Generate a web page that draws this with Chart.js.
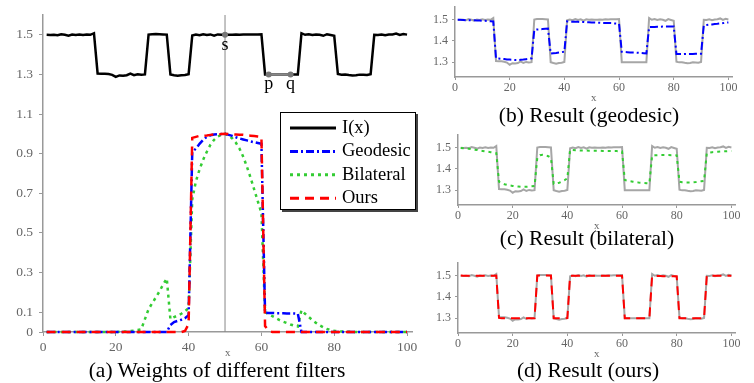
<!doctype html>
<html lang="en">
  <head>
    <meta charset="UTF-8" />
    <title>Weights of different filters</title>
    <script src="https://cdn.jsdelivr.net/npm/chart.js"></script>
    <style>
      body {
        margin: 0;
        background: #fff;
        width: 754px;
        height: 383px;
        overflow: hidden;
        position: relative;
        font-family: "Liberation Serif", "Times New Roman", serif;
      }
      canvas {
        position: absolute;
      }
      .cap {
        position: absolute;
        transform: translate(-50%, -50%);
        white-space: nowrap;
        font-size: 21.5px;
        color: #000;
      }
    </style>
  </head>
  <body>
    <canvas id="weights" width="425" height="383" style="left: 0; top: 0"></canvas>
    <canvas id="geo" width="354" height="127" style="left: 400px; top: -20px"></canvas>
    <canvas id="bil" width="354" height="127" style="left: 400px; top: 108px"></canvas>
    <canvas id="ours" width="354" height="127" style="left: 400px; top: 236px"></canvas>

    <div class="cap" style="left: 217px; top: 370px">(a) Weights of different filters</div>
    <div class="cap" style="left: 589px; top: 115px">(b) Result (geodesic)</div>
    <div class="cap" style="left: 587px; top: 238px">(c) Result (bilateral)</div>
    <div class="cap" style="left: 588px; top: 370px">(d) Result (ours)</div>

    <script>
      // sample positions 1..100
      const xs = Array.from({ length: 100 }, (_, i) => i + 1);

      const xTicks = [0, 20, 40, 60, 80, 100];
      const weightTicks = [0, 0.1, 0.3, 0.5, 0.7, 0.9, 1.1, 1.3, 1.5];
      const resultTicks = [1.3, 1.4, 1.5];

      // input signal I(x)
      const signal = [
        1.5, 1.499, 1.5, 1.498, 1.503, 1.5, 1.496, 1.501, 1.499, 1.502, 1.499, 1.501, 1.5, 1.508,
        1.305, 1.304, 1.304, 1.302, 1.298, 1.288, 1.295, 1.294, 1.296, 1.304, 1.296, 1.301, 1.298, 1.3,
        1.501, 1.503, 1.504, 1.503, 1.502, 1.501,
        1.3, 1.296, 1.293, 1.296, 1.297, 1.301,
        1.497, 1.501, 1.498, 1.503, 1.499, 1.502, 1.496, 1.502, 1.5, 1.501,
        1.5, 1.5, 1.501, 1.5, 1.502, 1.501, 1.502, 1.502, 1.502, 1.503,
        1.3, 1.3, 1.3, 1.3, 1.3, 1.3, 1.3, 1.3, 1.3, 1.3,
        1.508, 1.5, 1.503, 1.499, 1.502, 1.5, 1.495, 1.503, 1.499, 1.495,
        1.302, 1.299, 1.3, 1.297, 1.295, 1.296, 1.299, 1.298, 1.297, 1.301,
        1.5, 1.499, 1.502, 1.498, 1.501, 1.502, 1.506, 1.499, 1.504, 1.501,
      ];

      // filter weights around s (x = 50)
      const wGeodesic = [
        0, 0, 0, 0, 0, 0, 0, 0, 0, 0, 0, 0, 0, 0, 0, 0, 0, 0, 0, 0,
        0, 0, 0, 0, 0, 0, 0, 0, 0, 0, 0, 0, 0, 0,
        0.035, 0.05, 0.056, 0.062, 0.07, 0.085,
        0.91, 0.925, 0.95, 0.97, 0.985, 0.993, 0.997, 0.998, 0.999, 1.0,
        0.995, 0.99, 0.983, 0.977, 0.972, 0.967, 0.962, 0.958, 0.954, 0.95,
        0.097, 0.096, 0.096, 0.095, 0.095, 0.095, 0.094, 0.094, 0.094, 0.093,
        0, 0, 0, 0, 0, 0, 0, 0, 0, 0, 0, 0, 0, 0, 0,
        0, 0, 0, 0, 0, 0, 0, 0, 0, 0, 0, 0, 0, 0, 0,
      ];
      const wBilateral = [
        0, 0, 0, 0, 0, 0, 0, 0, 0, 0, 0, 0, 0, 0, 0, 0, 0, 0, 0, 0,
        0.001, 0.002, 0.003, 0.005, 0.007, 0.01, 0.014,
        0.065, 0.115, 0.145, 0.175, 0.205, 0.24, 0.27,
        0.065, 0.075, 0.083, 0.092, 0.105, 0.12,
        0.67, 0.76, 0.82, 0.87, 0.91, 0.945, 0.97, 0.986, 0.996, 1.0,
        0.992, 0.977, 0.955, 0.925, 0.885, 0.835, 0.78, 0.72, 0.66, 0.6,
        0.1, 0.09, 0.08, 0.07, 0.06, 0.052, 0.045, 0.038, 0.032, 0.028,
        0.11, 0.092, 0.076, 0.06, 0.046, 0.034, 0.024, 0.016, 0.01, 0.006,
        0.004, 0.003, 0.002, 0.001, 0.001, 0, 0, 0, 0, 0,
        0, 0, 0, 0, 0, 0, 0, 0, 0, 0,
      ];
      const wOurs = [
        0, 0, 0, 0, 0, 0, 0, 0, 0, 0, 0, 0, 0, 0, 0, 0, 0, 0, 0, 0,
        0, 0, 0, 0, 0, 0, 0, 0, 0, 0, 0, 0, 0, 0, 0, 0, 0, 0,
        0.005, 0.04,
        0.98, 0.985, 0.99, 0.99, 0.992, 0.995, 0.997, 0.998, 0.999, 1.0,
        0.999, 0.998, 0.997, 0.996, 0.995, 0.993, 0.991, 0.989, 0.987, 0.985,
        0.03, 0.005,
        0, 0, 0, 0, 0, 0, 0, 0, 0, 0, 0, 0, 0, 0, 0, 0, 0, 0, 0,
        0, 0, 0, 0, 0, 0, 0, 0, 0, 0, 0, 0, 0, 0, 0, 0, 0, 0, 0,
      ];

      // filtered results
      const resGeodesic = [
        1.5, 1.5, 1.499, 1.498, 1.498, 1.497, 1.497, 1.496, 1.496, 1.495, 1.495, 1.494, 1.493, 1.492,
        1.318, 1.317, 1.316, 1.315, 1.313, 1.312, 1.311, 1.31, 1.31, 1.311, 1.312, 1.314, 1.316, 1.318,
        1.452, 1.454, 1.455, 1.456, 1.457, 1.458,
        1.341, 1.342, 1.343, 1.345, 1.347, 1.349,
        1.492, 1.491, 1.491, 1.49, 1.49, 1.489, 1.489, 1.488, 1.488, 1.487,
        1.487, 1.486, 1.486, 1.485, 1.485, 1.484, 1.484, 1.483, 1.482, 1.481,
        1.349, 1.348, 1.347, 1.346, 1.345, 1.345, 1.344, 1.343, 1.342, 1.341,
        1.465, 1.466, 1.466, 1.467, 1.467, 1.468, 1.468, 1.468, 1.468, 1.468,
        1.338, 1.338, 1.338, 1.339, 1.339, 1.339, 1.339, 1.34, 1.34, 1.34,
        1.473, 1.475, 1.477, 1.478, 1.48, 1.481, 1.483, 1.484, 1.486, 1.487,
      ];
      const resBilateral = [
        1.499, 1.498, 1.497, 1.495, 1.493, 1.491, 1.489, 1.487, 1.485, 1.483, 1.481, 1.479, 1.477, 1.475,
        1.34, 1.333, 1.328, 1.325, 1.322, 1.32, 1.318, 1.317, 1.316, 1.316, 1.316, 1.317, 1.318, 1.32,
        1.452, 1.465, 1.467, 1.465, 1.46, 1.452,
        1.33, 1.332, 1.335, 1.34, 1.347, 1.356,
        1.49, 1.489, 1.488, 1.488, 1.487, 1.487, 1.487, 1.486, 1.486, 1.486,
        1.486, 1.486, 1.485, 1.485, 1.485, 1.485, 1.484, 1.484, 1.483, 1.483,
        1.348, 1.345, 1.342, 1.34, 1.338, 1.336, 1.335, 1.334, 1.333, 1.332,
        1.462, 1.464, 1.465, 1.466, 1.466, 1.466, 1.466, 1.465, 1.465, 1.464,
        1.34, 1.337, 1.336, 1.336, 1.336, 1.337, 1.338, 1.34, 1.342, 1.344,
        1.475, 1.477, 1.479, 1.48, 1.481, 1.482, 1.483, 1.483, 1.484, 1.484,
      ];
      const resOurs = [
        1.501, 1.5, 1.5, 1.5, 1.5, 1.5, 1.5, 1.5, 1.5, 1.5, 1.5, 1.5, 1.5, 1.501,
        1.301, 1.3, 1.3, 1.3, 1.3, 1.299, 1.299, 1.299, 1.299, 1.3, 1.3, 1.3, 1.3, 1.3,
        1.501, 1.501, 1.501, 1.501, 1.501, 1.501,
        1.299, 1.299, 1.299, 1.299, 1.299, 1.3,
        1.5, 1.5, 1.5, 1.5, 1.5, 1.5, 1.5, 1.5, 1.5, 1.5,
        1.5, 1.5, 1.5, 1.5, 1.5, 1.5, 1.5, 1.5, 1.5, 1.5,
        1.3, 1.3, 1.3, 1.3, 1.3, 1.3, 1.3, 1.3, 1.3, 1.3,
        1.499, 1.499, 1.499, 1.499, 1.498, 1.498, 1.498, 1.497, 1.497, 1.497,
        1.299, 1.299, 1.3, 1.3, 1.3, 1.3, 1.3, 1.3, 1.3, 1.3,
        1.5, 1.5, 1.5, 1.5, 1.5, 1.5, 1.5, 1.5, 1.5, 1.5,
      ];

      // marked points s, p, q on I(x)
      const markX = [50, 62, 68];
      const markY = [1.5, 1.3, 1.3];
      const markLabels = ["s", "p", "q"];

      const BLUE = "#0000ff";
      const GREEN = "#33cc33";
      const RED = "#ff0000";
      const AXIS = "#999";
      const TICK_TEXT = "#666";
      const SERIF = '"Liberation Serif", "Times New Roman", serif';

      Chart.defaults.font.family = SERIF;
      Chart.defaults.animation = false;

      const pts = (vals) => vals.map((v, i) => ({ x: xs[i], y: v }));

      const styles = {
        signal: { color: "#000", dash: [], width: 2.5 },
        geodesic: { color: BLUE, dash: [8, 3, 2, 3], width: 2.5 },
        bilateral: { color: GREEN, dash: [3, 4], width: 2.5 },
        ours: { color: RED, dash: [9, 6], width: 2.5 },
      };

      function lineSet(label, vals, st, order, extra) {
        return Object.assign(
          {
            label: label,
            data: pts(vals),
            borderColor: st.color,
            borderDash: st.dash,
            borderWidth: st.width,
            pointRadius: 0,
            tension: 0,
            order: order,
            clip: 6,
          },
          extra || {}
        );
      }

      function axes(o) {
        return {
          x: {
            type: "linear",
            min: 0,
            max: 101.5,
            afterBuildTicks: (s) => {
              s.ticks = xTicks.map((v) => ({ value: v }));
            },
            afterFit: (s) => {
              s.height = o.xh;
            },
            ticks: {
              autoSkip: false,
              maxRotation: 0,
              padding: o.tp,
              color: TICK_TEXT,
              font: { size: o.fs },
              callback: (v) => String(v),
            },
            grid: { drawOnChartArea: false, tickLength: o.tl, color: AXIS },
            border: { color: AXIS, width: 1.5 },
            title: {
              display: true,
              text: "x",
              color: TICK_TEXT,
              font: { size: 11 },
              padding: { top: 0, bottom: o.xpb },
            },
          },
          y: {
            min: o.ymin,
            max: o.ymax,
            afterBuildTicks: (s) => {
              s.ticks = o.yticks.map((v) => ({ value: v }));
            },
            afterFit: (s) => {
              s.width = o.yw;
            },
            ticks: {
              padding: o.yp,
              color: TICK_TEXT,
              font: { size: o.fs },
              callback: (v) => String(v),
            },
            grid: { drawOnChartArea: false, tickLength: o.tl, color: AXIS },
            border: { color: AXIS, width: 1.5 },
          },
        };
      }

      // legend box inside panel (a)
      const legendBox = {
        id: "legendBox",
        afterDraw(chart) {
          const ctx = chart.ctx;
          const items = [
            ["I(x)", styles.signal],
            ["Geodesic", styles.geodesic],
            ["Bilateral", styles.bilateral],
            ["Ours", styles.ours],
          ];
          ctx.save();
          ctx.fillStyle = "#444";
          ctx.fillRect(282, 114, 136, 98);
          ctx.fillStyle = "#fff";
          ctx.fillRect(280, 112, 136, 98);
          ctx.strokeStyle = "#000";
          ctx.lineWidth = 1;
          ctx.strokeRect(280.5, 112.5, 135, 97);
          ctx.font = "18.5px " + SERIF;
          ctx.textBaseline = "middle";
          items.forEach(([name, st], i) => {
            const y = 128 + i * 23.4;
            ctx.beginPath();
            ctx.setLineDash(st.dash);
            ctx.strokeStyle = st.color;
            ctx.lineWidth = 3;
            ctx.moveTo(290, y);
            ctx.lineTo(336, y);
            ctx.stroke();
            ctx.setLineDash([]);
            ctx.fillStyle = "#000";
            ctx.fillText(name, 342, y);
          });
          ctx.restore();
        },
      };

      // s, p, q letters
      const markText = {
        id: "markText",
        afterDatasetsDraw(chart) {
          const ctx = chart.ctx;
          const sx = chart.scales.x;
          const sy = chart.scales.y;
          ctx.save();
          ctx.font = "18px " + SERIF;
          ctx.fillStyle = "#000";
          ctx.textAlign = "center";
          ctx.textBaseline = "alphabetic";
          markLabels.forEach((t, i) => {
            ctx.fillText(t, sx.getPixelForValue(markX[i]), sy.getPixelForValue(markY[i]) + 15);
          });
          ctx.restore();
        },
      };

      new Chart(document.getElementById("weights"), {
        type: "line",
        data: {
          datasets: [
            lineSet("I(x)", signal, styles.signal, 4),
            lineSet("Bilateral", wBilateral, styles.bilateral, 3),
            lineSet("Geodesic", wGeodesic, styles.geodesic, 2),
            lineSet("Ours", wOurs, styles.ours, 1),
            {
              label: "s-line",
              data: [
                { x: markX[0], y: 0 },
                { x: markX[0], y: 1.6 },
              ],
              borderColor: "#888",
              borderWidth: 1,
              pointRadius: 0,
              order: 6,
            },
            {
              label: "pq",
              data: [
                { x: markX[1], y: markY[1] },
                { x: markX[2], y: markY[2] },
              ],
              borderColor: "#888",
              borderWidth: 2.5,
              pointRadius: 3,
              pointBackgroundColor: "#777",
              pointBorderWidth: 0,
              order: 0,
            },
            {
              label: "s",
              data: [{ x: markX[0], y: markY[0] }],
              showLine: false,
              pointRadius: 3,
              pointBackgroundColor: "#777",
              pointBorderWidth: 0,
              order: 0,
            },
          ],
        },
        options: {
          responsive: false,
          devicePixelRatio: 1,
          layout: { padding: { left: 0, right: 12.5, top: 15, bottom: 11 } },
          plugins: { legend: { display: false }, tooltip: { enabled: false } },
          scales: axes({
            xh: 40, tp: 3, fs: 13.5, tl: 4, xpb: 11.8,
            ymin: 0, ymax: 1.6, yticks: weightTicks, yw: 43, yp: 6,
          }),
        },
        plugins: [legendBox, markText],
      });

      function resultChart(id, vals, st, padLeft, padRight) {
        new Chart(document.getElementById(id), {
          type: "line",
          data: {
            datasets: [
              lineSet("I(x)", signal, { color: "#a6a6a6", dash: [], width: 2 }, 2),
              lineSet("result", vals, Object.assign({}, st, { width: 2 }), 1),
            ],
          },
          options: {
            responsive: false,
            devicePixelRatio: 1,
            layout: { padding: { left: padLeft, right: padRight, top: 27, bottom: 0 } },
            plugins: { legend: { display: false }, tooltip: { enabled: false } },
            scales: axes({
              xh: 30, tp: 1, fs: 12, tl: 3, xpb: 2.4,
              ymin: 1.23, ymax: 1.56, yticks: resultTicks, yw: 55, yp: 4,
            }),
          },
        });
      }

      resultChart("geo", resGeodesic, styles.geodesic, 0, 21.5);
      resultChart("bil", resBilateral, styles.bilateral, 3, 18.5);
      resultChart("ours", resOurs, styles.ours, 3, 18.5);
    </script>
  </body>
</html>
